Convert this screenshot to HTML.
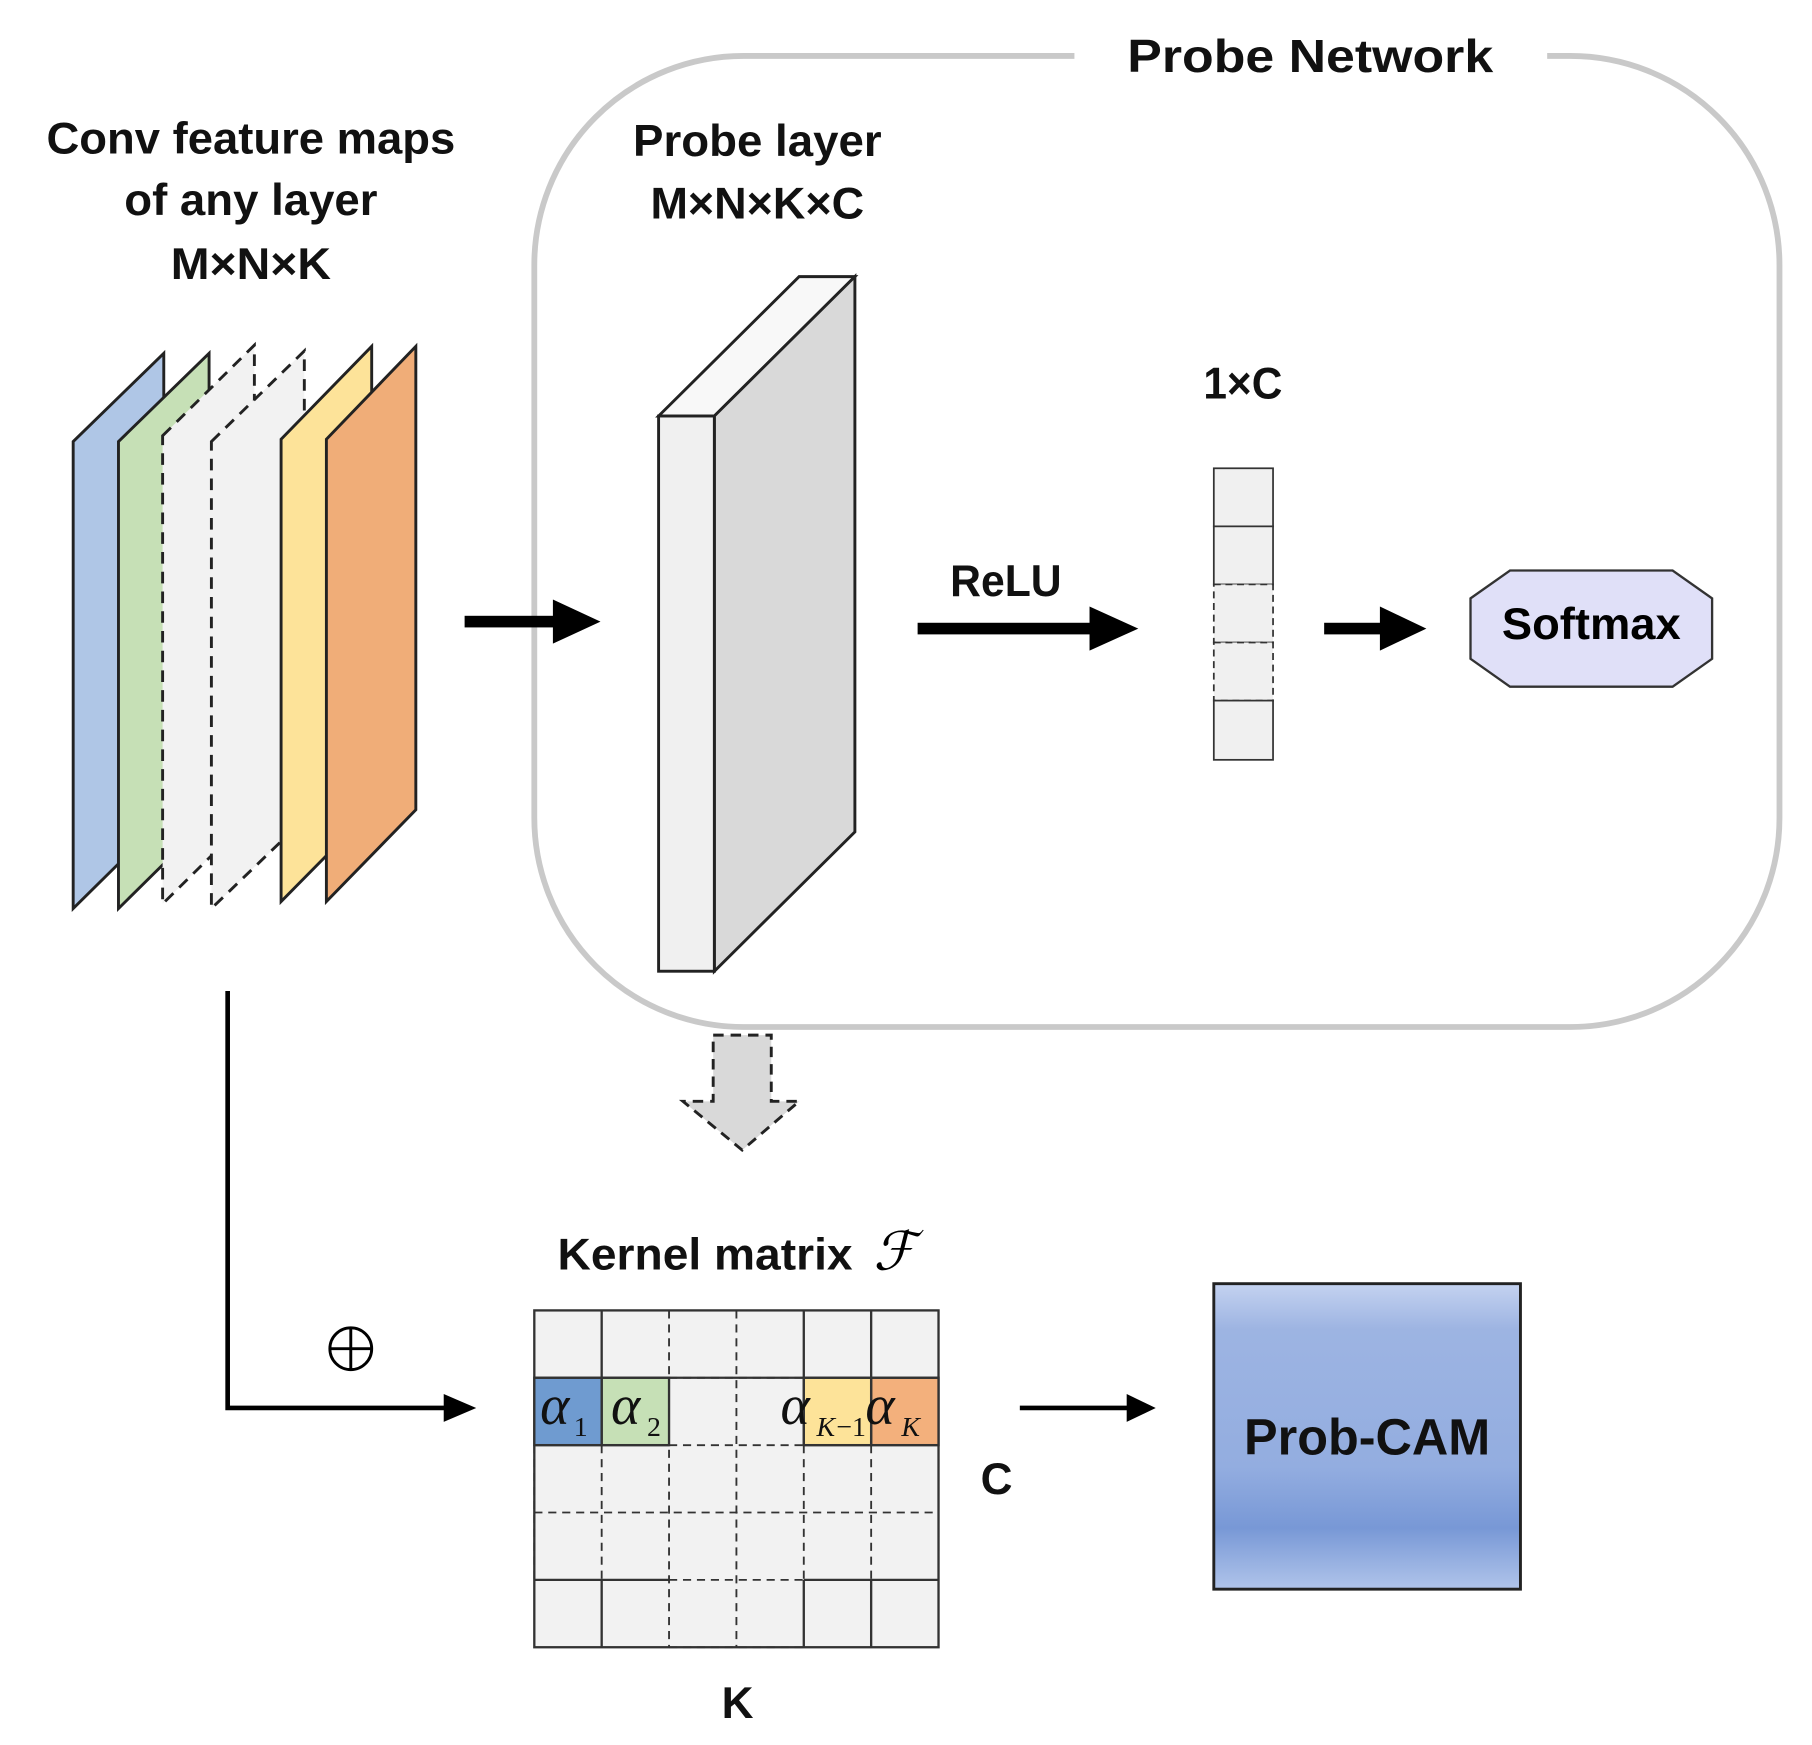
<!DOCTYPE html>
<html><head><style>html,body{margin:0;padding:0;background:#fff}svg{display:block}</style></head>
<body>
<svg width="1812" height="1745" viewBox="0 0 1560 1502" xmlns="http://www.w3.org/2000/svg" font-family="Liberation Sans, sans-serif">
<defs>
<linearGradient id="g" x1="0" y1="0" x2="0" y2="1">
<stop offset="0" stop-color="#c4d2f0"/><stop offset="0.15" stop-color="#9db4e2"/><stop offset="0.6" stop-color="#93ade0"/><stop offset="0.8" stop-color="#7898d6"/><stop offset="1" stop-color="#b0c4ea"/>
</linearGradient>
</defs>
<path d="M925,48 H640 A180,180 0 0 0 460,228 V704 A180,180 0 0 0 640,884 H1352 A180,180 0 0 0 1532,704 V228 A180,180 0 0 0 1352,48 H1332" fill="none" stroke="#c9c9c9" stroke-width="5"/>
<text x="1128" y="62" font-size="40" font-weight="bold" text-anchor="middle" textLength="315" lengthAdjust="spacingAndGlyphs" fill="#111">Probe Network</text>

<g font-weight="bold" font-size="38" fill="#111" text-anchor="middle">
<text x="216" y="132" textLength="352" lengthAdjust="spacingAndGlyphs">Conv feature maps</text>
<text x="216" y="185" textLength="218" lengthAdjust="spacingAndGlyphs">of any layer</text>
<text x="216" y="240" textLength="138" lengthAdjust="spacingAndGlyphs">M×N×K</text>
<text x="652" y="134" textLength="214" lengthAdjust="spacingAndGlyphs">Probe layer</text>
<text x="652" y="188" textLength="184" lengthAdjust="spacingAndGlyphs">M×N×K×C</text>
<text x="1070" y="343" textLength="68" lengthAdjust="spacingAndGlyphs">1×C</text>
<text x="866" y="513" textLength="96" lengthAdjust="spacingAndGlyphs">ReLU</text>
<text x="858" y="1286">C</text>
<text x="635" y="1479">K</text>
<text x="607" y="1093" textLength="254" lengthAdjust="spacingAndGlyphs">Kernel matrix</text>
</g>
<text x="770" y="1093" font-size="46" font-style="italic" font-family="Liberation Serif, serif" text-anchor="middle">ℱ</text>

<g stroke="#222" stroke-width="2.5">
<polygon points="63,380 141,304 141,705 63,782" fill="#afc6e6"/>
<polygon points="102,380 180,304 180,705 102,782" fill="#c6e0b6"/>
<polygon points="140,375 219,297 219,700 140,778" fill="#f2f2f2" stroke-dasharray="10,7"/>
<polygon points="182,380 262,302 262,705 182,782" fill="#f2f2f2" stroke-dasharray="10,7"/>
<polygon points="242,378 320,298 320,697 242,776" fill="#fde399"/>
<polygon points="281,378 358,298 358,697 281,776" fill="#f0ad78"/>
</g>

<g stroke="#222" stroke-width="2.5">
<polygon points="567,358 615,358 736,238 688,238" fill="#f8f8f8"/>
<polygon points="615,358 736,238 736,716 615,836" fill="#d9d9d9"/>
<rect x="567" y="358" width="48" height="478" fill="#f0f0f0"/>
</g>

<g fill="#000">
<rect x="400" y="530" width="80" height="10"/><polygon points="476,516 517,535 476,554"/>
<rect x="790" y="536" width="150" height="10"/><polygon points="938,522 980,541 938,560"/>
<rect x="1140" y="536" width="50" height="10"/><polygon points="1188,522 1228,541 1188,560"/>
</g>

<g stroke="#333" stroke-width="1.5" fill="#f0f0f0">
<rect x="1045" y="403" width="51" height="50"/>
<rect x="1045" y="453" width="51" height="50"/>
<rect x="1045" y="503" width="51" height="50" stroke-dasharray="6,4"/>
<rect x="1045" y="553" width="51" height="50" stroke-dasharray="6,4"/>
<rect x="1045" y="603" width="51" height="51"/>
</g>

<polygon points="1266,515 1300,491 1440,491 1474,515 1474,567 1440,591 1300,591 1266,567" fill="#e0e0f8" stroke="#333" stroke-width="2"/>
<text x="1370" y="550" font-size="38" font-weight="bold" text-anchor="middle" textLength="154" lengthAdjust="spacingAndGlyphs">Softmax</text>

<polygon points="614,891 664,891 664,948 688,948 639,990 588,948 614,948" fill="#d9d9d9" stroke="#222" stroke-width="2.5" stroke-dasharray="9,6"/>

<path d="M196,853 V1212 H385" fill="none" stroke="#000" stroke-width="4"/>
<polygon points="382,1200 410,1212 382,1224" fill="#000"/>
<circle cx="302" cy="1161" r="18" fill="none" stroke="#000" stroke-width="2.5"/>
<path d="M284,1161 H320 M302,1143 V1179" stroke="#000" stroke-width="2.5"/>

<g stroke="#333" stroke-width="2" fill="#f2f2f2">
<rect x="460" y="1128" width="348" height="290"/>
<rect x="460" y="1186" width="58" height="58" fill="#6f9bd0"/>
<rect x="518" y="1186" width="58" height="58" fill="#c6e0b6"/>
<rect x="692" y="1186" width="58" height="58" fill="#fde399"/>
<rect x="750" y="1186" width="58" height="58" fill="#f3b07c"/>
</g>
<g stroke="#333" stroke-width="2" fill="none">
<path d="M518,1128V1244M692,1128V1244M750,1128V1244M518,1360V1418M692,1360V1418M750,1360V1418M460,1186H808M460,1244H576M692,1244H808M460,1360H576M692,1360H808"/>
</g>
<g stroke="#333" stroke-width="1.6" fill="none" stroke-dasharray="7,5">
<path d="M576,1128V1418M634,1128V1418M518,1244V1360M692,1244V1360M750,1244V1360M460,1244V1360M808,1244V1360M576,1244H692M460,1302H808M576,1360H692M576,1128H692M576,1418H692M576,1186H692"/>
</g>
<g font-family="Liberation Serif, serif" font-style="italic" fill="#111">
<text x="465" y="1226" font-size="48">α</text><text x="494" y="1236" font-size="24" font-style="normal">1</text>
<text x="526" y="1226" font-size="48">α</text><text x="557" y="1236" font-size="24" font-style="normal">2</text>
<text x="672" y="1226" font-size="48">α</text><text x="703" y="1236" font-size="24">K</text><text x="720" y="1236" font-size="24" font-style="normal">−1</text>
<text x="745" y="1226" font-size="48">α</text><text x="776" y="1236" font-size="24">K</text>
</g>

<path d="M878,1212 H975" stroke="#000" stroke-width="4"/>
<polygon points="970,1200 995,1212 970,1224" fill="#000"/>

<rect x="1045" y="1105" width="264" height="263" fill="url(#g)" stroke="#222" stroke-width="2.5"/>
<text x="1177" y="1252" font-size="44" font-weight="bold" text-anchor="middle" textLength="212" lengthAdjust="spacingAndGlyphs" fill="#111">Prob-CAM</text>
</svg>
</body></html>
